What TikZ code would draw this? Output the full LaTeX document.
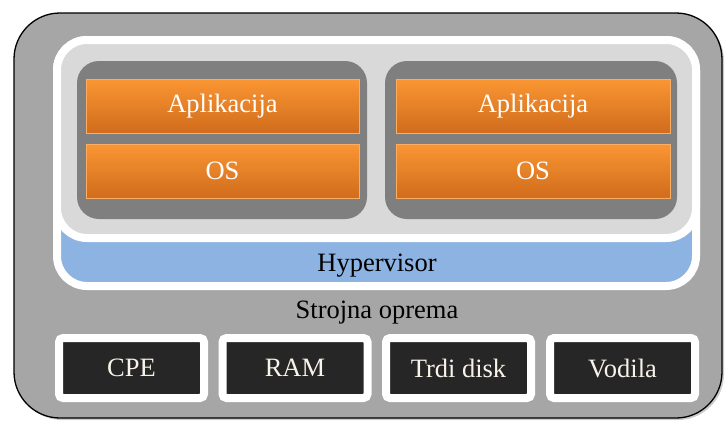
\documentclass[tikz,border=0pt]{standalone}
\usepackage{fontspec}
\setmainfont{Liberation Serif}
\usetikzlibrary{shadows}
\definecolor{framegray}{HTML}{A6A6A6}
\definecolor{panelgray}{HTML}{D9D9D9}
\definecolor{vmgray}{HTML}{7F7F7F}
\definecolor{hypblue}{HTML}{8DB3E2}
\definecolor{hwdark}{HTML}{262626}
\definecolor{orangetop}{HTML}{FA9632}
\definecolor{orangebot}{HTML}{D06C1C}
\definecolor{orangeedge}{HTML}{FBAE63}
\definecolor{hwtext}{HTML}{F7F3EA}
\tikzset{
  txt/.style={font=\fontsize{26.5}{31}\selectfont},
  framebox/.style={draw=black, line width=1.3pt, fill=framegray, rounded corners=46pt,
    inner sep=0pt, drop shadow={shadow xshift=2pt, shadow yshift=-2pt, opacity=0.4}},
  layerbox/.style={draw=white, line width=8pt, rounded corners=30pt, inner sep=0pt,
    drop shadow={shadow xshift=1.5pt, shadow yshift=-2pt, opacity=0.3}},
  vmbox/.style={fill=vmgray, rounded corners=22pt, inner sep=0pt,
    minimum width=290pt, minimum height=158pt},
  appbox/.style={draw=orangeedge, line width=1pt, top color=orangetop, bottom color=orangebot,
    inner sep=0pt, minimum height=54pt, text=white, txt,
    drop shadow={shadow xshift=2pt, shadow yshift=-3pt, opacity=0.5}},
  hwbox/.style={draw=white, line width=8pt, fill=hwdark, rounded corners=4pt, inner sep=0pt,
    minimum width=145pt, minimum height=60pt, text=hwtext, txt,
    drop shadow={shadow xshift=1.5pt, shadow yshift=-2pt, opacity=0.35}},
}
\begin{document}
\begin{tikzpicture}[x=1pt, y=-1pt]
\useasboundingbox (0,0) rectangle (725,421);

% hardware frame
\node[framebox, minimum width=708pt, minimum height=405pt] (frame) at (368,215.5) {};

% hypervisor layer and the panel holding the virtual machines
\node[layerbox, fill=hypblue, minimum width=639pt, minimum height=246pt] (hyp) at (376.5,163) {};
\node[layerbox, fill=panelgray, minimum width=639pt, minimum height=198pt] (panel) at (376.5,139) {};
\node[txt] (hyplabel) at (377,266) {Hypervisor};

% two virtual machines
\node[vmbox] (vmA) at (222,140) {};
\node[vmbox, minimum width=292pt] (vmB) at (531,140) {};

\node[appbox, minimum width=273pt] (appA) at (222.5,106) {Aplikacija};
\node[appbox, minimum width=273pt] (osA)  at (222.5,171) {OS};
\node[appbox, minimum width=274pt] (appB) at (533,106) {Aplikacija};
\node[appbox, minimum width=274pt] (osB)  at (533,171) {OS};

% physical hardware
\node[txt] (hwlabel) at (377,313) {Strojna oprema};
\node[hwbox] (cpe)   at (131.5,368) {CPE};
\node[hwbox] (ram)   at (295,368)   {RAM};
\node[hwbox] (disk)  at (458.5,368) {Trdi disk};
\node[hwbox] (drv)   at (622.5,368) {Vodila};
\end{tikzpicture}
\end{document}
